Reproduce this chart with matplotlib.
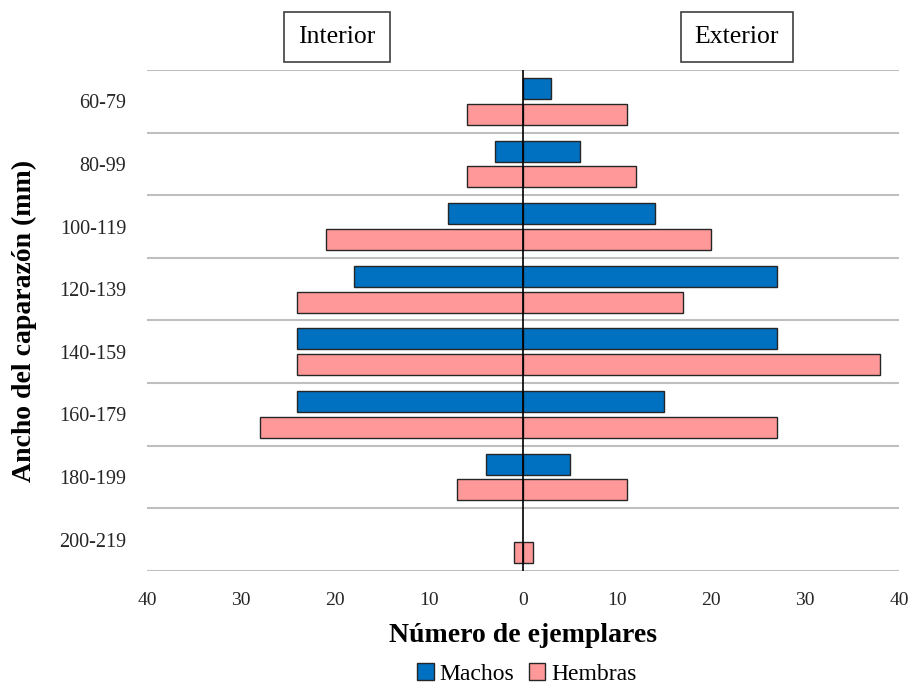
import matplotlib.pyplot as plt
import numpy as np
from matplotlib.patches import Patch

plt.rcParams['font.family'] = ['Liberation Serif', 'DejaVu Serif']

# Size classes of carapace width and counts per sex and zone
clases = ['60-79', '80-99', '100-119', '120-139', '140-159', '160-179', '180-199', '200-219']
machos_interior = [0, 3, 8, 18, 24, 24, 4, 0]
machos_exterior = [3, 6, 14, 27, 27, 15, 5, 0]
hembras_interior = [6, 6, 21, 24, 24, 28, 7, 1]
hembras_exterior = [11, 12, 20, 17, 38, 27, 11, 1]

azul = '#0070c0'
rosa = '#ff9999'
borde = '#262626'

fig = plt.figure(figsize=(9.13, 6.83), dpi=100)
ax = fig.add_axes([0.161, 0.164, 0.824, 0.7335])

y = np.arange(len(clases))
off = 0.205
h = 0.335


def barras(pos, valores, color, signo):
    valores = np.array(valores)
    # empty classes get no outline either
    lw = np.where(valores > 0, 1.0, 0.0)
    ax.barh(pos, signo * valores, height=h, color=color, edgecolor=borde, linewidth=lw, zorder=3)


# Interior counts are drawn to the left as negative values
barras(y - off, machos_interior, azul, -1)
barras(y - off, machos_exterior, azul, 1)
barras(y + off, hembras_interior, rosa, -1)
barras(y + off, hembras_exterior, rosa, 1)

ax.axvline(0, color='black', linewidth=1.2, zorder=4)

ax.set_xlim(-40, 40)
ax.set_ylim(len(clases) - 0.5, -0.5)
ax.set_xticks(np.arange(-40, 41, 10))
ax.set_xticklabels([str(abs(v)) for v in range(-40, 41, 10)])
ax.set_yticks(y)
ax.set_yticklabels(clases)

# separators between size classes
ax.set_yticks(np.arange(-0.5, len(clases)), minor=True)
ax.grid(which='minor', axis='y', color='#bfbfbf', linewidth=1.5, zorder=0)
ax.tick_params(which='both', length=0)
ax.tick_params(axis='x', labelsize=14, pad=15, colors='#262626')
ax.tick_params(axis='y', labelsize=14.5, pad=15, colors='#262626')
for s in ax.spines.values():
    s.set_visible(False)

ax.set_xlabel('Número de ejemplares', fontsize=20, fontweight='bold', labelpad=10)
ax.set_ylabel('Ancho del caparazón (mm)', fontsize=20, fontweight='bold', labelpad=16)

box = dict(boxstyle='square,pad=0.55', facecolor='white', edgecolor='#404040', linewidth=1.2)
fig.text(337 / 913, 1 - 37 / 683, 'Interior', fontsize=18.5, ha='center', va='center', bbox=box)
fig.text(737 / 913, 1 - 37 / 683, 'Exterior', fontsize=18.5, ha='center', va='center', bbox=box)

handles = [Patch(facecolor=azul, edgecolor=borde, label='Machos'),
           Patch(facecolor=rosa, edgecolor=borde, label='Hembras')]
fig.legend(handles=handles, loc='center', bbox_to_anchor=(527 / 913, 1 - 674 / 683), ncol=2,
           frameon=False, fontsize=17, handlelength=0.7, handleheight=0.7,
           handletextpad=0.25, columnspacing=0.6)

fig.savefig('out.png', dpi=100)
